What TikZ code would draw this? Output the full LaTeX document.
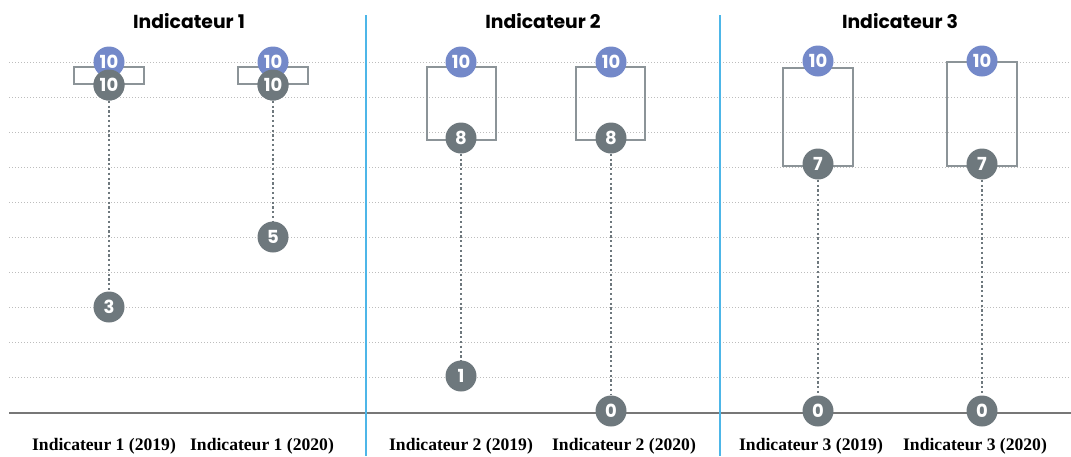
\documentclass[tikz,border=0pt]{standalone}
\usepackage{fontspec}
\setmainfont{Liberation Serif}
\newfontfamily\pop{Poppins}
\definecolor{myblue}{HTML}{7489C9}
\definecolor{mygray}{HTML}{6E787D}
\definecolor{rectgray}{HTML}{8C9498}
\definecolor{gridgray}{HTML}{BDBDBD}
\definecolor{basegray}{HTML}{777777}
\definecolor{sepblue}{HTML}{4DB6E8}
\begin{document}
\begin{tikzpicture}[x=1pt,y=-1pt,
  gridline/.style={draw=gridgray, line width=0.8pt, dash pattern=on 1pt off 2pt},
  baseline/.style={draw=basegray, line width=2.5pt},
  sepline/.style={draw=sepblue, line width=2.5pt},
  rangebox/.style={draw=rectgray, line width=1.4pt},
  link/.style={draw=mygray, line width=2.2pt, dash pattern=on 2.2pt off 2.6pt},
  dot/.style={circle, minimum size=31pt, inner sep=0pt, text=white, font=\pop\bfseries\fontsize{18}{18}\selectfont},
  hi/.style={dot, fill=myblue},
  lo/.style={dot, fill=mygray},
  title/.style={font=\pop\bfseries\fontsize{18.8}{18.8}\selectfont, text=black},
  axislabel/.style={font=\bfseries\fontsize{17.6}{17.6}\selectfont, text=black}
]
\useasboundingbox (0,0) rectangle (1071,456);
% grid lines
\foreach \yy in {62,97,132,167,202,237,272,307,342,377}
  \draw[gridline] (9,\yy) -- (1071,\yy);
\draw[baseline] (9,413) -- (1071,413);
% separators
\draw[sepline] (366,15) -- (366,456);
\draw[sepline] (720,15) -- (720,456);
% titles
\node[title] (t1) at (189,21) {Indicateur 1};
\node[title] (t2) at (543,21) {Indicateur 2};
\node[title] (t3) at (900,21) {Indicateur 3};
% range boxes
\draw[rangebox] (74,67) rectangle (144,84);
\draw[rangebox] (238,67) rectangle (308,84);
\draw[rangebox] (427,67) rectangle (496,140);
\draw[rangebox] (576,67) rectangle (645,140);
\draw[rangebox] (783,68) rectangle (853,166);
\draw[rangebox] (947,62) rectangle (1017,166);
% lower circles (created first for connectors)
\path (109,85) node[lo] (a1) {10};
\path (109,307) node[lo] (a2) {3};
\path (273,85) node[lo] (b1) {10};
\path (273,237) node[lo] (b2) {5};
\path (461,138) node[lo] (c1) {8};
\path (461,376) node[lo] (c2) {1};
\path (611,138) node[lo] (d1) {8};
\path (611,411) node[lo] (d2) {0};
\path (818,164) node[lo] (e1) {7};
\path (818,411) node[lo] (e2) {0};
\path (982,164) node[lo] (f1) {7};
\path (982,411) node[lo] (f2) {0};
% connectors
\draw[link] (a1) -- (a2);
\draw[link] (b1) -- (b2);
\draw[link] (c1) -- (c2);
\draw[link] (d1) -- (d2);
\draw[link] (e1) -- (e2);
\draw[link] (f1) -- (f2);
% upper circles
\node[hi] (ha) at (109,62) {10};
\node[hi] (hb) at (273,62) {10};
\node[hi] (hc) at (461,62) {10};
\node[hi] (hd) at (611,62) {10};
\node[hi] (he) at (818,61) {10};
\node[hi] (hf) at (982,61) {10};
% redraw lower circles on top
\node[lo] at (a1) {10};
\node[lo] at (b1) {10};
% axis labels
\node[axislabel] (l1) at (104,446) {Indicateur 1 (2019)};
\node[axislabel] (l2) at (262,446) {Indicateur 1 (2020)};
\node[axislabel] (l3) at (461,446) {Indicateur 2 (2019)};
\node[axislabel] (l4) at (624,446) {Indicateur 2 (2020)};
\node[axislabel] (l5) at (811,446) {Indicateur 3 (2019)};
\node[axislabel] (l6) at (975,446) {Indicateur 3 (2020)};
\end{tikzpicture}
\end{document}
